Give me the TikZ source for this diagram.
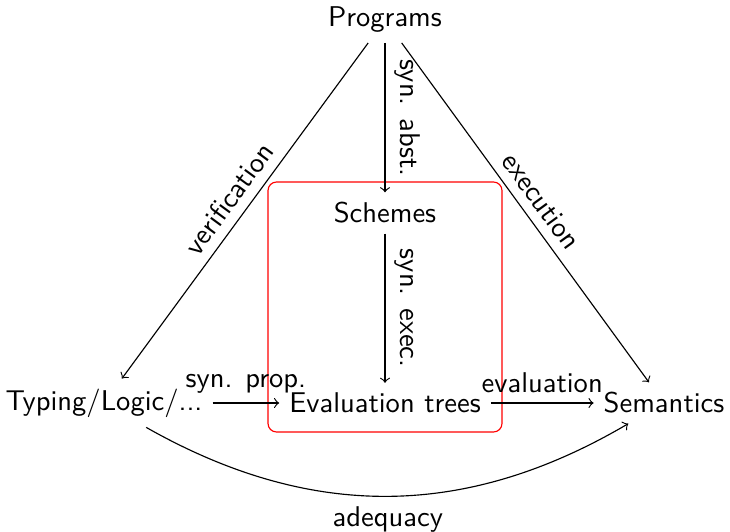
\documentclass[tikz,border=0pt]{standalone}
\usetikzlibrary{arrows}
\begin{document}
\begin{tikzpicture}[x=0.35pt,y=0.35pt,
  every node/.style={font=\sffamily},
  conn/.style={->},
  lbl/.style={above,sloped}]
\useasboundingbox (0,0) rectangle (730,531);
% grouping box around the syntactic part
\draw[red,rounded corners=3pt] (268,99) rectangle (502,349);
% nodes
\node (prog) at (385,511) {Programs};
\node (sch)  at (385,318) {Schemes};
\node (evt)  at (385,128) {Evaluation trees};
\node (typ)  at (104,128) {Typing/Logic/...};
\node (sem)  at (664,128) {Semantics};
% connectors
\draw[conn] (prog) -- node[lbl] {verification} (typ);
\draw[conn] (prog) -- node[lbl] {execution} (sem);
\draw[conn] (prog) -- node[lbl] {syn. abst.} (sch);
\draw[conn] (sch) -- node[lbl] {syn. exec.} (evt);
\draw[conn] (typ) -- node[above] {syn. prop.} (evt);
\draw[conn] (evt) -- node[above] {evaluation} (sem);
\draw[conn] (typ) to[bend right=30] node[below] {adequacy} (sem);
\end{tikzpicture}
\end{document}
